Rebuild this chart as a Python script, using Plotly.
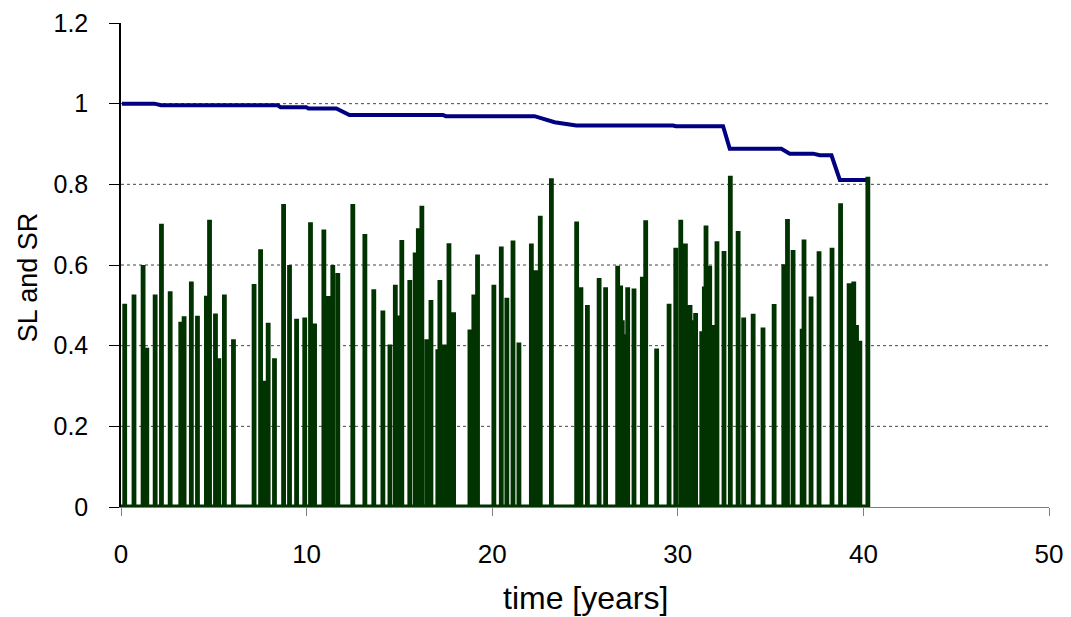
import plotly.graph_objects as go

# Spike series (SR): event times [years] and values
SR_T = [0.20, 0.70, 1.19, 1.39, 1.84, 2.18, 2.65, 3.22, 3.40, 3.79, 4.12, 4.60, 4.77, 5.09, 5.27, 5.57, 6.06,
        7.17, 7.52, 7.70, 7.93, 8.27, 8.76, 9.08, 9.46, 9.90, 10.21, 10.43, 10.93, 11.16, 11.41, 11.68, 12.49,
        13.14, 13.62, 14.11, 14.49, 14.78, 14.92, 15.13, 15.56, 15.85, 16.02, 16.21, 16.48, 16.70, 17.07, 17.18,
        17.42, 17.67, 17.92, 18.80, 19.01, 19.21, 20.09, 20.49, 20.79, 21.12, 21.44, 22.11, 22.34, 22.59, 23.19,
        24.55, 24.78, 25.13, 25.76, 26.11, 26.76, 26.92, 27.01, 27.12, 27.30, 27.64, 28.09, 28.27, 28.86, 29.53,
        29.89, 30.16, 30.41, 30.66, 30.82, 30.96, 31.29, 31.43, 31.52, 31.72, 31.92, 32.11, 32.49, 32.83, 33.25,
        33.55, 34.06, 34.59, 35.19, 35.71, 35.91, 36.21, 36.70, 36.80, 37.18, 37.61, 38.31, 38.77, 39.23, 39.48,
        39.63, 39.81, 40.24]
SR_V = [0.504, 0.527, 0.600, 0.395, 0.527, 0.702, 0.535, 0.459, 0.473, 0.559, 0.474, 0.524, 0.712, 0.480, 0.369, 0.527, 0.416,
        0.553, 0.639, 0.313, 0.457, 0.369, 0.751, 0.600, 0.467, 0.470, 0.706, 0.455, 0.688, 0.523, 0.600, 0.580, 0.751,
        0.677, 0.540, 0.487, 0.403, 0.551, 0.475, 0.662, 0.563, 0.631, 0.691, 0.747, 0.416, 0.513, 0.391, 0.563,
        0.403, 0.654, 0.483, 0.440, 0.527, 0.626, 0.551, 0.646, 0.519, 0.661, 0.408, 0.653, 0.587, 0.722, 0.815,
        0.708, 0.545, 0.501, 0.568, 0.545, 0.598, 0.549, 0.463, 0.428, 0.545, 0.542, 0.571, 0.711, 0.393, 0.504,
        0.643, 0.712, 0.653, 0.501, 0.463, 0.481, 0.436, 0.547, 0.698, 0.598, 0.451, 0.659, 0.635, 0.821, 0.684,
        0.470, 0.479, 0.445, 0.503, 0.602, 0.714, 0.637, 0.442, 0.663, 0.522, 0.634, 0.643, 0.753, 0.555, 0.559,
        0.451, 0.412, 0.819]

# SL series: breakpoints
SL_T = [0.05, 1.80, 2.16, 8.45, 8.60, 9.98, 10.10, 11.60, 12.31, 17.34, 17.50, 22.28, 23.36, 24.17, 24.53,
        29.74, 29.90, 32.44, 32.80, 35.58, 36.03, 37.29, 37.65, 38.28, 38.73, 40.17]
SL_V = [1.000, 1.000, 0.996, 0.996, 0.991, 0.991, 0.988, 0.988, 0.972, 0.972, 0.969, 0.969, 0.954, 0.950, 0.946,
        0.946, 0.944, 0.944, 0.888, 0.888, 0.876, 0.876, 0.872, 0.872, 0.811, 0.811]

X_TICKS = [0, 10, 20, 30, 40, 50]
Y_TICKS = [0, 0.2, 0.4, 0.6, 0.8, 1.0, 1.2]
Y_TICK_TEXT = ["0", "0.2", "0.4", "0.6", "0.8", "1", "1.2"]
GRID_Y = [0.2, 0.4, 0.6, 0.8, 1.0]

# build spike polyline: baseline -> up -> down for each event
sx, sy = [0.0], [0.0]
for t, v in zip(SR_T, SR_V):
    sx += [t, t, t]
    sy += [0.0, v, 0.0]

FONT = "Liberation Sans, Arial, sans-serif"

fig = go.Figure()
fig.add_trace(go.Scatter(x=SL_T, y=SL_V, mode="lines",
                         line=dict(color="#000080", width=4), showlegend=False))
fig.add_trace(go.Scatter(x=sx, y=sy, mode="lines",
                         line=dict(color="#003300", width=4.8), showlegend=False))

shapes = [dict(type="line", xref="paper", x0=0, x1=1, yref="y", y0=g, y1=g,
               line=dict(color="#444444", width=1, dash="3px,3px"), layer="below")
          for g in GRID_Y]

fig.update_layout(
    width=1063, height=609,
    margin=dict(l=113, r=22, t=15, b=110, autoexpand=False),
    paper_bgcolor="white", plot_bgcolor="white",
    font=dict(family=FONT, color="black"),
    shapes=shapes,
    xaxis=dict(range=[0, 50], tickvals=X_TICKS, ticks="outside", ticklen=8, tickcolor="#808080",
               showline=True, linecolor="#808080", linewidth=1, showgrid=False, zeroline=False,
               tickfont=dict(size=26, family=FONT), ticklabelstandoff=16, automargin=False,
               ticklabeloverflow="allow"),
    yaxis=dict(range=[0, 1.2], tickvals=Y_TICKS, ticktext=Y_TICK_TEXT, ticks="outside", ticklen=10,
               tickcolor="black", showline=True, linecolor="black", linewidth=1.5, showgrid=False,
               zeroline=False, tickfont=dict(size=25, family=FONT), ticklabelstandoff=16, automargin=False,
               ticklabeloverflow="allow"),
    annotations=[
        dict(text="time [years]", xref="paper", yref="paper", x=0.5, y=-0.188,
             showarrow=False, font=dict(size=32, family=FONT), xanchor="center", yanchor="middle"),
        dict(text="SL and SR", xref="paper", yref="paper", x=-0.1, y=0.475, textangle=-90,
             showarrow=False, font=dict(size=27, family=FONT), xanchor="center", yanchor="middle"),
    ],
)

fig.write_html("out.html")
